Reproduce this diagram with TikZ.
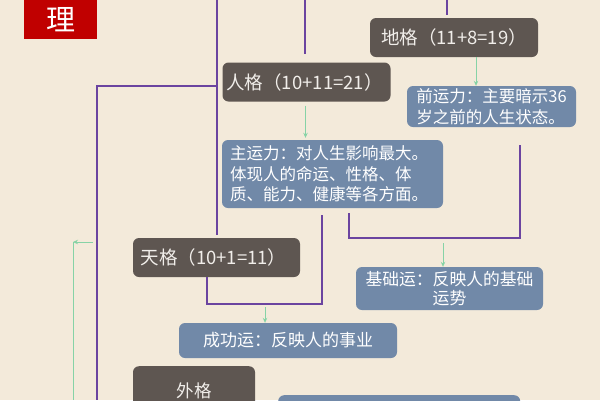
\documentclass[tikz,border=0pt]{standalone}
\usepackage{fontspec}
\newfontfamily\cjk{Noto Sans CJK SC}
\usetikzlibrary{arrows.meta}
\definecolor{paper}{HTML}{F3EADA}
\definecolor{darkc}{HTML}{5E5651}
\definecolor{bluec}{HTML}{7189A8}
\definecolor{boxtext}{HTML}{F1EEEA}
\definecolor{purplec}{HTML}{6B44A0}
\definecolor{greenc}{HTML}{86D3A6}
\definecolor{redc}{HTML}{C00000}
\tikzset{
  darkbox/.style={fill=darkc, rounded corners=6pt, text=boxtext, inner sep=0pt,
    font=\cjk\fontsize{18.5}{22}\selectfont},
  bluebox/.style={fill=bluec, rounded corners=6pt, text=white, inner sep=0pt,
    font=\cjk\fontsize{16.5}{20.5}\selectfont},
  pline/.style={draw=purplec, line width=2pt},
  gline/.style={draw=greenc, line width=1pt, -{Stealth[length=5pt,width=4.5pt]}},
}
\begin{document}
\begin{tikzpicture}[x=1pt,y=-1pt]
\useasboundingbox (0,0) rectangle (600,400);
\clip (0,0) rectangle (600,400);
\fill[paper] (0,0) rectangle (600,400);

% title box
\node[fill=redc, inner sep=0pt, minimum width=73pt, minimum height=39pt, anchor=north west,
  text=white, font=\cjk\fontsize{29}{30}\selectfont] (li) at (24,0) {理};

% gray boxes
\node[darkbox, minimum width=168pt, minimum height=39pt] (dige) at (454,37.5) {地格（11+8=19）};
\node[darkbox, minimum width=168pt, minimum height=39pt] (renge) at (306.5,82) {人格（10+11=21）\hspace*{4pt}};
\node[darkbox, minimum width=167pt, minimum height=39pt] (tiange) at (216.5,257.5) {天格（10+1=11）\hspace*{6pt}};
\node[darkbox, minimum width=122pt, minimum height=50pt, anchor=north, font=\cjk\fontsize{17.5}{22}\selectfont] (waige) at (194,366) {\raisebox{-12pt}{外格}};

% blue boxes
\node[bluebox, minimum width=169pt, minimum height=41pt, align=left] (qian) at (491.5,106.5)
  {前运力：主要暗示36\\岁之前的人生状态。};
\node[bluebox, minimum width=221pt, minimum height=68pt, align=left] (zhu) at (332.5,174)
  {主运力：对人生影响最大。\hspace*{7pt}\\体现人的命运、性格、体\\质、能力、健康等各方面。};
\node[bluebox, minimum width=187pt, minimum height=43pt, align=center,
  font=\cjk\fontsize{16.8}{19}\selectfont] (jichu) at (449.5,288.5)
  {基础运：反映人的基础\\运势};
\node[bluebox, minimum width=218pt, minimum height=35pt,
  font=\cjk\fontsize{17}{20}\selectfont] (chenggong) at (288,340.5)
  {成功运：反映人的事业};
\node[bluebox, minimum width=242pt, minimum height=30pt, anchor=north west] (bottombox) at (278,395) {};

% purple connectors
\coordinate (t1) at (217,0);
\coordinate (j1) at (217,86);
\coordinate (b1) at (97,400);
\coordinate (t3) at (305,0);
\coordinate (t4) at (447,0);
\coordinate (m5) at (322,304);
\coordinate (m5a) at (207,0);
\coordinate (m6) at (349,238);
\coordinate (q6) at (520,145);
\draw[pline, shorten >=3pt] (t1) -- (t1 |- tiange.north);
\draw[pline] (j1) -- (j1 -| b1) -- (b1);
\draw[pline, shorten >=8pt] (t3) -- (t3 |- renge.north);
\draw[pline, shorten >=3pt] (t4) -- (t4 |- dige.north);
\draw[pline, shorten >=7pt] (m5a |- tiange.south) |- (m5) -- (m5 |- zhu.south);
\draw[pline, shorten <=5pt] (m6 |- zhu.south) -- (m6) -| (q6);

% green arrows
\coordinate (g1) at (476,0);
\coordinate (g2) at (305.5,0);
\coordinate (g3) at (443,243);
\coordinate (g4) at (265,307);
\coordinate (g5) at (93,242);
\coordinate (g5b) at (73,400);
\draw[gline] (dige.south -| g1) -- (qian.north -| g1);
\draw[gline, shorten <=4pt, shorten >=2pt] (renge.south -| g2) -- (zhu.north -| g2);
\draw[gline] (g3) -- (g3 |- jichu.north);
\draw[gline] (g4) -- (g4 |- chenggong.north);
\draw[gline] (g5) -- (g5 -| g5b);
\draw[draw=greenc, line width=1pt] (g5 -| g5b) -- (g5b);
\end{tikzpicture}
\end{document}
